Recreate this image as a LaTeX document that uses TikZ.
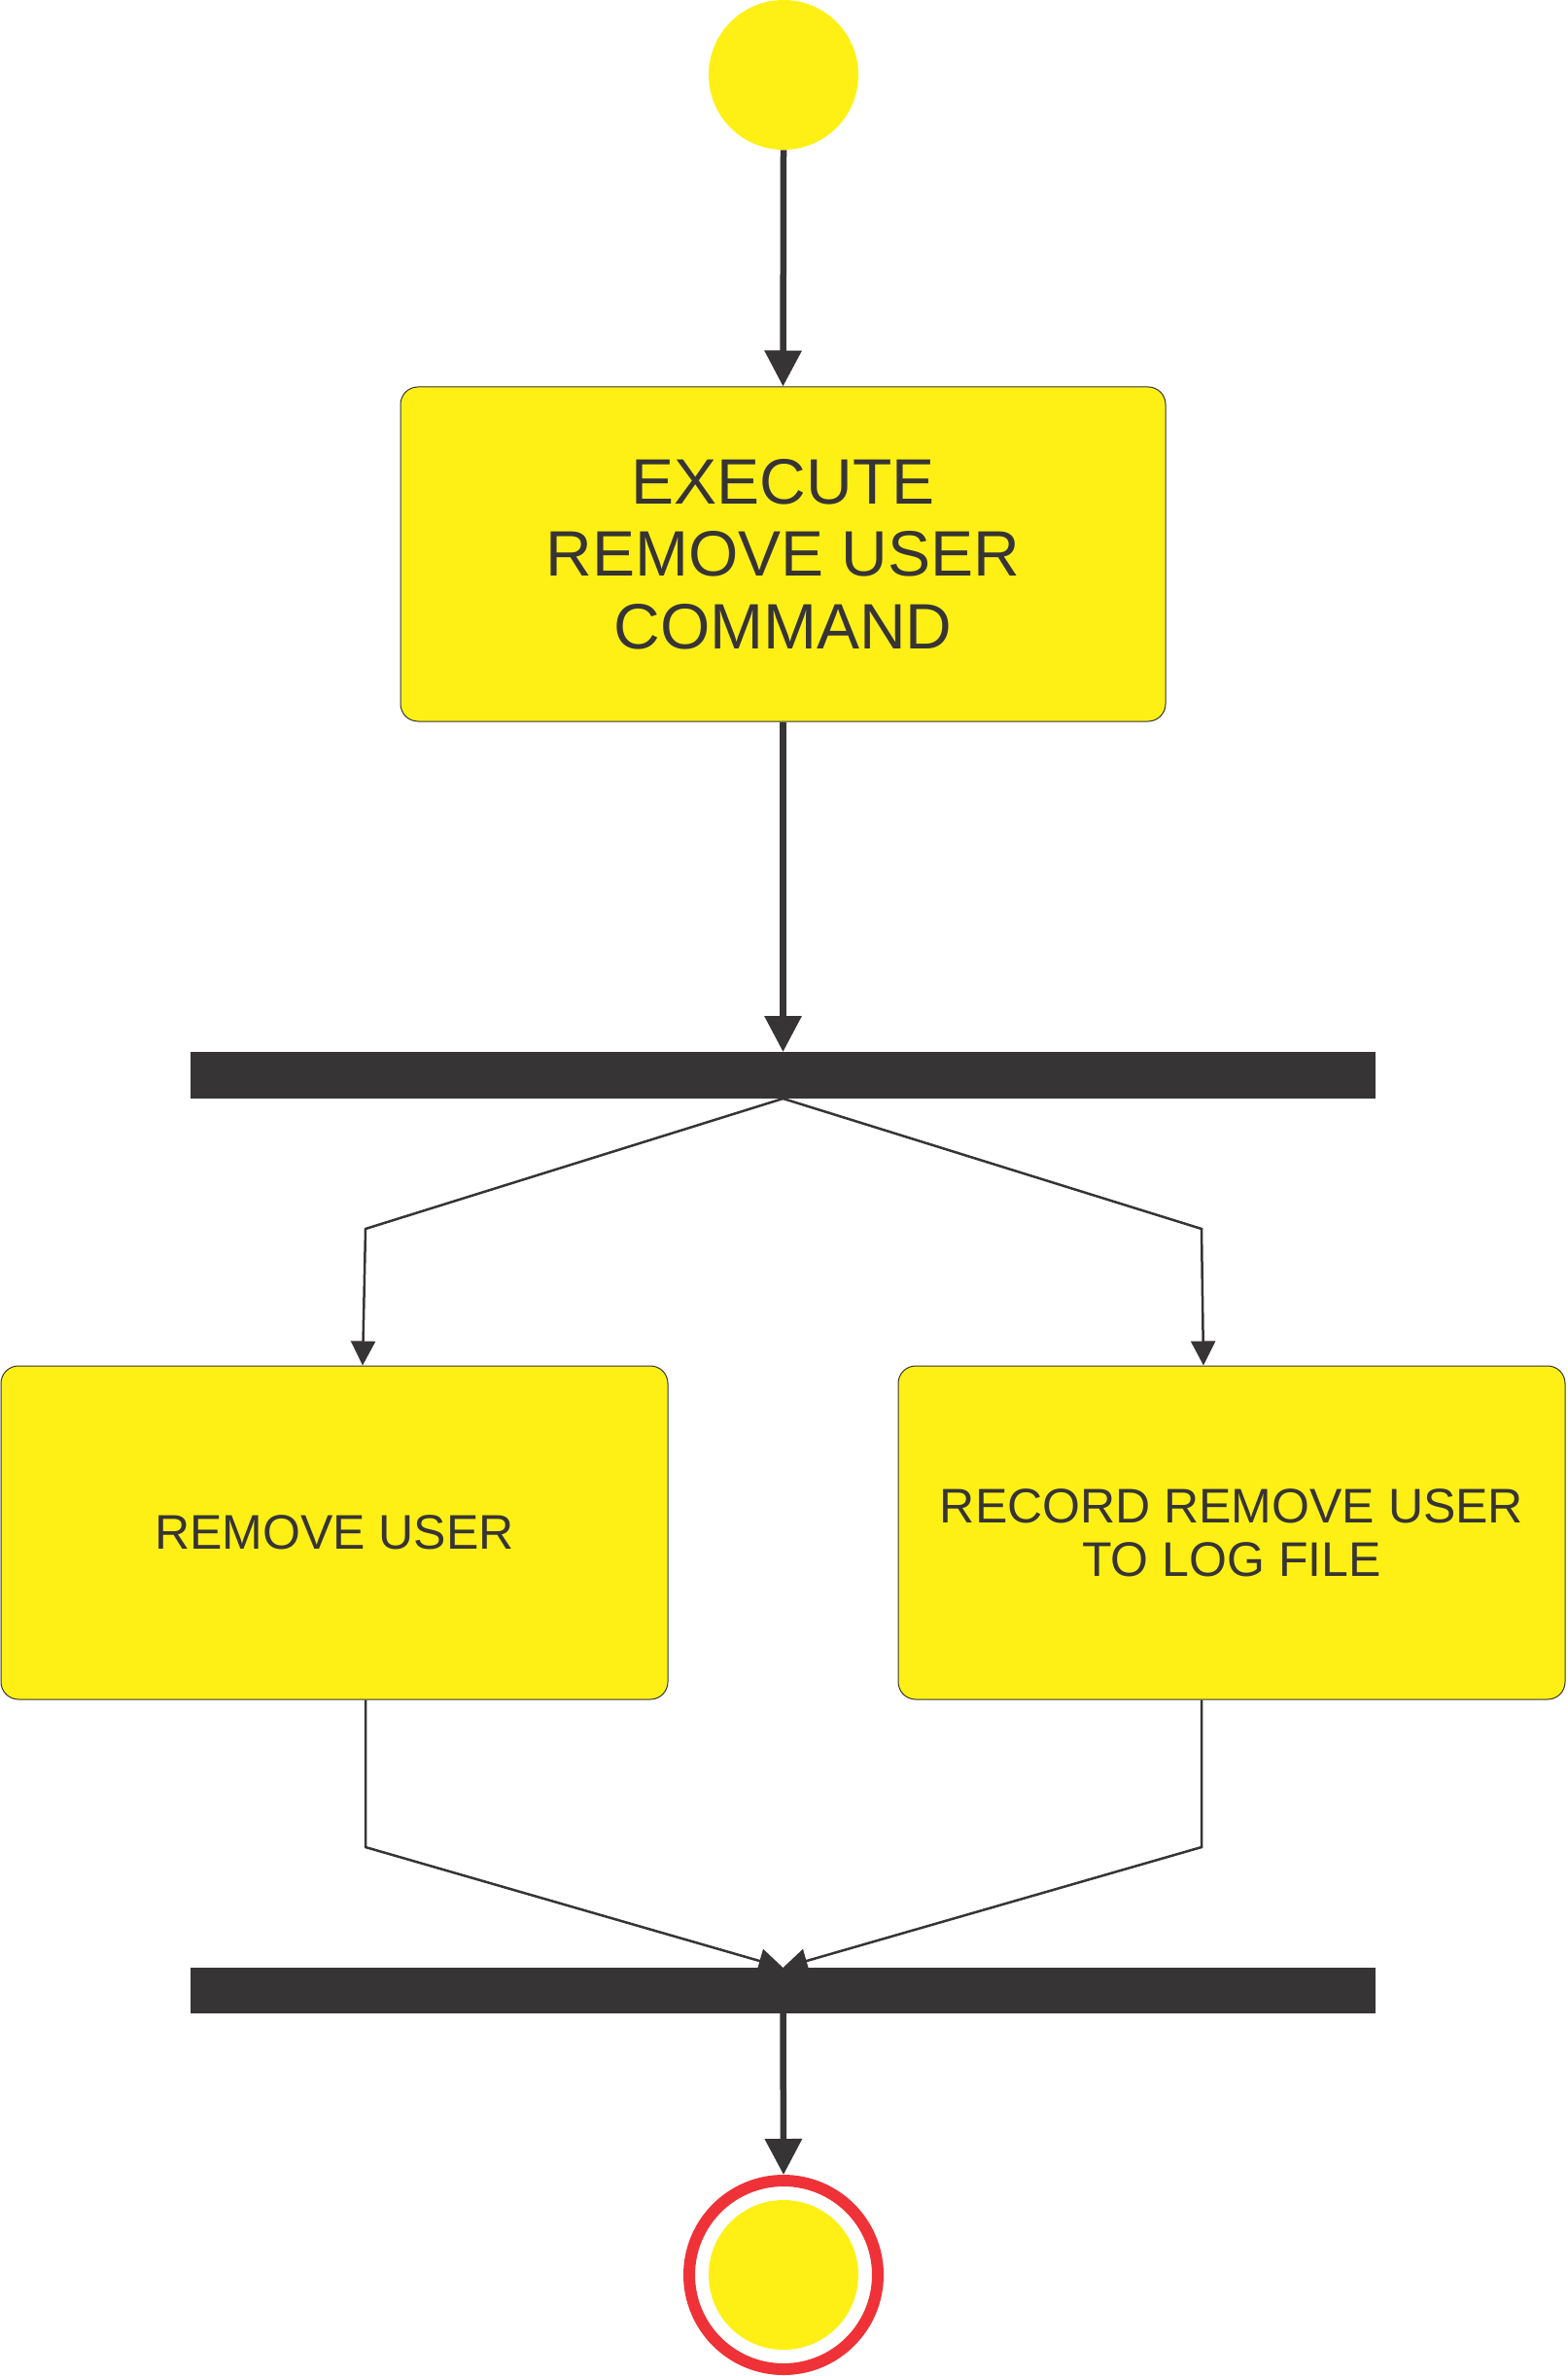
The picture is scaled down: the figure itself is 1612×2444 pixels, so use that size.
\documentclass[tikz,border=0pt]{standalone}
\usepackage{fontspec}
\setmainfont{Liberation Sans}
\usetikzlibrary{arrows.meta}
\definecolor{uyellow}{RGB}{254,240,20}
\definecolor{udark}{RGB}{55,52,53}
\definecolor{ured}{RGB}{238,50,56}
\begin{document}
\begin{tikzpicture}[x=0.5pt,y=-0.5pt,
  actbox/.style={rectangle, rounded corners=9pt, fill=uyellow, draw=udark, line width=0.5pt, inner sep=0pt, align=center, text=udark},
  bigtext/.style={font=\fontsize{33pt}{37.25pt}\selectfont},
  smalltext/.style={font=\fontsize{25pt}{27.5pt}\selectfont},
  syncbar/.style={rectangle, fill=udark, inner sep=0pt, outer sep=0pt, minimum width=609.5pt},
  thickflow/.style={draw=udark, line width=3.25pt, -{Triangle[length=18.5pt,width=18.5pt]}},
  thinflow/.style={draw=udark, line width=1.25pt, -{Triangle[length=12.5pt,width=12.5pt]}},
]
\useasboundingbox (0,0) rectangle (1612,2444);
\fill[white] (0,0) rectangle (1612,2444);

% nodes
\node[circle, fill=uyellow, inner sep=0pt, minimum size=77pt] (start) at (806,77) {};
\node[actbox, bigtext, minimum width=393.5pt, minimum height=172pt] (exec) at (805.5,570) {EXECUTE\\REMOVE USER\\COMMAND};
\node[syncbar, minimum height=24pt] (fork) at (805.5,1106) {};
\node[actbox, smalltext, minimum width=343pt, minimum height=171.5pt] (rmuser) at (344,1576.5) {REMOVE USER};
\node[actbox, smalltext, minimum width=343pt, minimum height=171.5pt] (rmlog) at (1267,1576.5) {RECORD REMOVE USER\\TO LOG FILE};
\node[syncbar, minimum height=23.5pt] (join) at (805.5,2047.5) {};
\node[circle, draw=ured, line width=6pt, inner sep=0pt, minimum size=97pt] (endring) at (806,2340) {};
\node[circle, fill=uyellow, inner sep=0pt, minimum size=77pt] (endcore) at (806,2340) {};

% bend points
\coordinate (fl) at (376,1264);
\coordinate (fr) at (1236,1264);
\coordinate (jl) at (376,1900);
\coordinate (jr) at (1236,1900);

% connectors
\draw[thickflow] (start.south) -- (exec.north);
\draw[thickflow] (exec.south) -- (fork.north -| exec.south);
\draw[thinflow] (fork.south -| exec.south) -- (fl) -- ([xshift=14.5pt]rmuser.north);
\draw[thinflow] (fork.south -| exec.south) -- (fr) -- ([xshift=-14.5pt]rmlog.north);
\draw[thinflow] ([xshift=16pt]rmuser.south) -- (jl) -- (join.north -| exec.south);
\draw[thinflow] ([xshift=-15.5pt]rmlog.south) -- (jr) -- (join.north -| exec.south);
\draw[thickflow] (join.south -| exec.south) -- (endring.north);
\end{tikzpicture}
\end{document}
